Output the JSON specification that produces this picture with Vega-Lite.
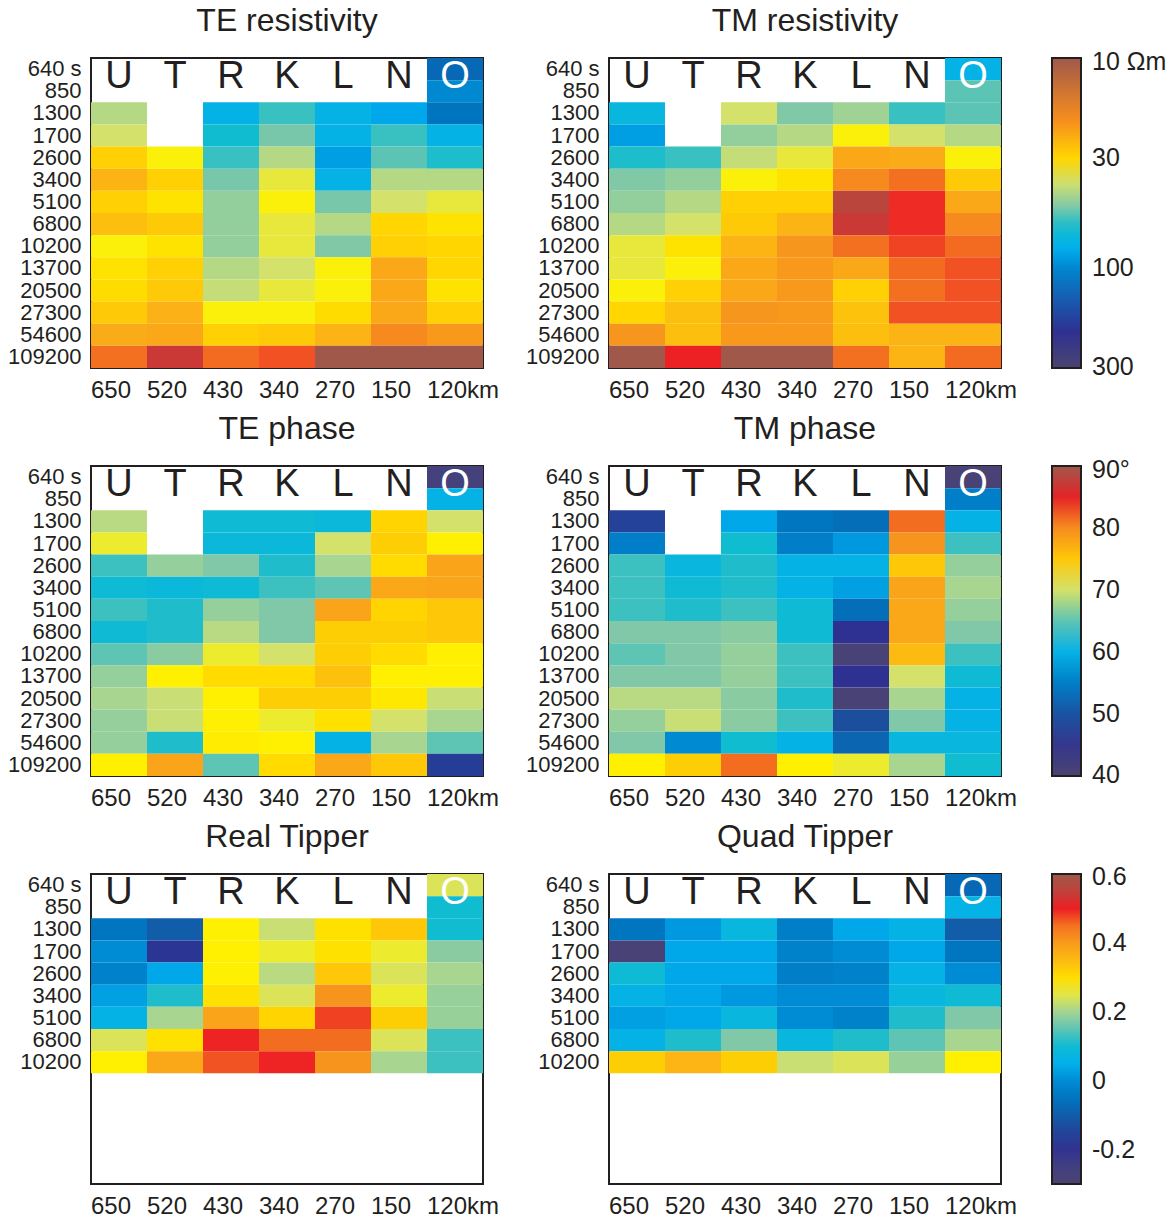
{
"$schema": "https://vega.github.io/schema/vega-lite/v6.json",
"background": "white",
"padding": {"left": 6, "top": 3, "right": 2, "bottom": 2},
"spacing": 8,
"resolve": {"scale": {"color": "independent"}},
"datasets": {
"letters": [{"station":"U"},{"station":"T"},{"station":"R"},{"station":"K"},{"station":"L"},{"station":"N"},{"station":"O"}],
"te_res": [
{"station":"O","period":"640","value":128},{"station":"O","period":"850","value":99},
{"station":"U","period":"1300","value":43},{"station":"R","period":"1300","value":77},{"station":"K","period":"1300","value":59},{"station":"L","period":"1300","value":77},{"station":"N","period":"1300","value":85},{"station":"O","period":"1300","value":117},
{"station":"U","period":"1700","value":39},{"station":"R","period":"1700","value":65},{"station":"K","period":"1700","value":52},{"station":"L","period":"1700","value":77},{"station":"N","period":"1700","value":59},{"station":"O","period":"1700","value":77},
{"station":"U","period":"2600","value":29},{"station":"T","period":"2600","value":35},{"station":"R","period":"2600","value":59},{"station":"K","period":"2600","value":43},{"station":"L","period":"2600","value":89},{"station":"N","period":"2600","value":55},{"station":"O","period":"2600","value":63},
{"station":"U","period":"3400","value":25},{"station":"T","period":"3400","value":29},{"station":"R","period":"3400","value":52},{"station":"K","period":"3400","value":37},{"station":"L","period":"3400","value":77},{"station":"N","period":"3400","value":43},{"station":"O","period":"3400","value":43},
{"station":"U","period":"5100","value":29},{"station":"T","period":"5100","value":32},{"station":"R","period":"5100","value":48},{"station":"K","period":"5100","value":35},{"station":"L","period":"5100","value":52},{"station":"N","period":"5100","value":39},{"station":"O","period":"5100","value":37},
{"station":"U","period":"6800","value":26.5},{"station":"T","period":"6800","value":28},{"station":"R","period":"6800","value":48},{"station":"K","period":"6800","value":37},{"station":"L","period":"6800","value":43},{"station":"N","period":"6800","value":30},{"station":"O","period":"6800","value":32},
{"station":"U","period":"10200","value":35},{"station":"T","period":"10200","value":32},{"station":"R","period":"10200","value":48},{"station":"K","period":"10200","value":37},{"station":"L","period":"10200","value":51},{"station":"N","period":"10200","value":29},{"station":"O","period":"10200","value":30},
{"station":"U","period":"13700","value":32},{"station":"T","period":"13700","value":29},{"station":"R","period":"13700","value":43},{"station":"K","period":"13700","value":39},{"station":"L","period":"13700","value":35},{"station":"N","period":"13700","value":23},{"station":"O","period":"13700","value":30},
{"station":"U","period":"20500","value":31},{"station":"T","period":"20500","value":28},{"station":"R","period":"20500","value":41},{"station":"K","period":"20500","value":37},{"station":"L","period":"20500","value":35},{"station":"N","period":"20500","value":23},{"station":"O","period":"20500","value":32},
{"station":"U","period":"27300","value":28},{"station":"T","period":"27300","value":24.6},{"station":"R","period":"27300","value":35},{"station":"K","period":"27300","value":35},{"station":"L","period":"27300","value":31},{"station":"N","period":"27300","value":23},{"station":"O","period":"27300","value":29},
{"station":"U","period":"54600","value":23.5},{"station":"T","period":"54600","value":23},{"station":"R","period":"54600","value":29},{"station":"K","period":"54600","value":28},{"station":"L","period":"54600","value":25},{"station":"N","period":"54600","value":19.5},{"station":"O","period":"54600","value":21},
{"station":"U","period":"109200","value":17.4},{"station":"T","period":"109200","value":12.7},{"station":"R","period":"109200","value":17},{"station":"K","period":"109200","value":16},{"station":"L","period":"109200","value":10},{"station":"N","period":"109200","value":10},{"station":"O","period":"109200","value":10}
],
"tm_res": [
{"station":"O","period":"640","value":77},{"station":"O","period":"850","value":55},
{"station":"U","period":"1300","value":72},{"station":"R","period":"1300","value":39},{"station":"K","period":"1300","value":51},{"station":"L","period":"1300","value":46},{"station":"N","period":"1300","value":59},{"station":"O","period":"1300","value":55},
{"station":"U","period":"1700","value":89},{"station":"R","period":"1700","value":48},{"station":"K","period":"1700","value":43},{"station":"L","period":"1700","value":35},{"station":"N","period":"1700","value":39},{"station":"O","period":"1700","value":43},
{"station":"U","period":"2600","value":63},{"station":"T","period":"2600","value":59},{"station":"R","period":"2600","value":41},{"station":"K","period":"2600","value":37},{"station":"L","period":"2600","value":23},{"station":"N","period":"2600","value":23.5},{"station":"O","period":"2600","value":35},
{"station":"U","period":"3400","value":51},{"station":"T","period":"3400","value":48},{"station":"R","period":"3400","value":35},{"station":"K","period":"3400","value":32},{"station":"L","period":"3400","value":19.5},{"station":"N","period":"3400","value":17.4},{"station":"O","period":"3400","value":28},
{"station":"U","period":"5100","value":48},{"station":"T","period":"5100","value":43},{"station":"R","period":"5100","value":29},{"station":"K","period":"5100","value":29},{"station":"L","period":"5100","value":11.8},{"station":"N","period":"5100","value":14.9},{"station":"O","period":"5100","value":23},
{"station":"U","period":"6800","value":43},{"station":"T","period":"6800","value":39},{"station":"R","period":"6800","value":28},{"station":"K","period":"6800","value":25},{"station":"L","period":"6800","value":12.7},{"station":"N","period":"6800","value":14.9},{"station":"O","period":"6800","value":19.5},
{"station":"U","period":"10200","value":37},{"station":"T","period":"10200","value":32},{"station":"R","period":"10200","value":25},{"station":"K","period":"10200","value":20.7},{"station":"L","period":"10200","value":17.4},{"station":"N","period":"10200","value":15.6},{"station":"O","period":"10200","value":17},
{"station":"U","period":"13700","value":37},{"station":"T","period":"13700","value":35},{"station":"R","period":"13700","value":23},{"station":"K","period":"13700","value":21},{"station":"L","period":"13700","value":23},{"station":"N","period":"13700","value":17},{"station":"O","period":"13700","value":16},
{"station":"U","period":"20500","value":35},{"station":"T","period":"20500","value":29},{"station":"R","period":"20500","value":23},{"station":"K","period":"20500","value":21},{"station":"L","period":"20500","value":29},{"station":"N","period":"20500","value":17.4},{"station":"O","period":"20500","value":16},
{"station":"U","period":"27300","value":30},{"station":"T","period":"27300","value":26.5},{"station":"R","period":"27300","value":20.7},{"station":"K","period":"27300","value":21},{"station":"L","period":"27300","value":27},{"station":"N","period":"27300","value":16},{"station":"O","period":"27300","value":16},
{"station":"U","period":"54600","value":20.7},{"station":"T","period":"54600","value":26.5},{"station":"R","period":"54600","value":21},{"station":"K","period":"54600","value":21},{"station":"L","period":"54600","value":26.5},{"station":"N","period":"54600","value":25},{"station":"O","period":"54600","value":25},
{"station":"U","period":"109200","value":10},{"station":"T","period":"109200","value":14.6},{"station":"R","period":"109200","value":10},{"station":"K","period":"109200","value":10},{"station":"L","period":"109200","value":17.4},{"station":"N","period":"109200","value":25},{"station":"O","period":"109200","value":17}
],
"te_phase": [
{"station":"O","period":"640","value":42},{"station":"O","period":"850","value":60},
{"station":"U","period":"1300","value":68.75},{"station":"R","period":"1300","value":62},{"station":"K","period":"1300","value":62},{"station":"L","period":"1300","value":61.5},{"station":"N","period":"1300","value":74},{"station":"O","period":"1300","value":70},
{"station":"U","period":"1700","value":71},{"station":"R","period":"1700","value":61.5},{"station":"K","period":"1700","value":61.5},{"station":"L","period":"1700","value":70},{"station":"N","period":"1700","value":74.5},{"station":"O","period":"1700","value":72},
{"station":"U","period":"2600","value":64},{"station":"T","period":"2600","value":67},{"station":"R","period":"2600","value":66},{"station":"K","period":"2600","value":63},{"station":"L","period":"2600","value":68},{"station":"N","period":"2600","value":73.5},{"station":"O","period":"2600","value":78},
{"station":"U","period":"3400","value":62},{"station":"T","period":"3400","value":61.5},{"station":"R","period":"3400","value":62},{"station":"K","period":"3400","value":64},{"station":"L","period":"3400","value":65},{"station":"N","period":"3400","value":77.8},{"station":"O","period":"3400","value":78},
{"station":"U","period":"5100","value":64},{"station":"T","period":"5100","value":63},{"station":"R","period":"5100","value":67},{"station":"K","period":"5100","value":66},{"station":"L","period":"5100","value":78},{"station":"N","period":"5100","value":74},{"station":"O","period":"5100","value":75},
{"station":"U","period":"6800","value":62},{"station":"T","period":"6800","value":63},{"station":"R","period":"6800","value":68.75},{"station":"K","period":"6800","value":66},{"station":"L","period":"6800","value":74.5},{"station":"N","period":"6800","value":74.5},{"station":"O","period":"6800","value":75},
{"station":"U","period":"10200","value":65},{"station":"T","period":"10200","value":66.5},{"station":"R","period":"10200","value":71},{"station":"K","period":"10200","value":70},{"station":"L","period":"10200","value":74.5},{"station":"N","period":"10200","value":73.5},{"station":"O","period":"10200","value":72},
{"station":"U","period":"13700","value":67},{"station":"T","period":"13700","value":72},{"station":"R","period":"13700","value":73.5},{"station":"K","period":"13700","value":73.5},{"station":"L","period":"13700","value":75.5},{"station":"N","period":"13700","value":72},{"station":"O","period":"13700","value":72},
{"station":"U","period":"20500","value":68},{"station":"T","period":"20500","value":69.5},{"station":"R","period":"20500","value":72},{"station":"K","period":"20500","value":74.5},{"station":"L","period":"20500","value":74.5},{"station":"N","period":"20500","value":72.5},{"station":"O","period":"20500","value":69.5},
{"station":"U","period":"27300","value":67},{"station":"T","period":"27300","value":69.5},{"station":"R","period":"27300","value":72},{"station":"K","period":"27300","value":71},{"station":"L","period":"27300","value":73},{"station":"N","period":"27300","value":70},{"station":"O","period":"27300","value":68},
{"station":"U","period":"54600","value":67},{"station":"T","period":"54600","value":63},{"station":"R","period":"54600","value":72.2},{"station":"K","period":"54600","value":72},{"station":"L","period":"54600","value":60},{"station":"N","period":"54600","value":68},{"station":"O","period":"54600","value":65},
{"station":"U","period":"109200","value":72},{"station":"T","period":"109200","value":78},{"station":"R","period":"109200","value":65},{"station":"K","period":"109200","value":73.5},{"station":"L","period":"109200","value":77.8},{"station":"N","period":"109200","value":75},{"station":"O","period":"109200","value":47.5}
],
"tm_phase": [
{"station":"O","period":"640","value":41},{"station":"O","period":"850","value":55},
{"station":"U","period":"1300","value":48},{"station":"R","period":"1300","value":58.5},{"station":"K","period":"1300","value":54},{"station":"L","period":"1300","value":53},{"station":"N","period":"1300","value":82},{"station":"O","period":"1300","value":60},
{"station":"U","period":"1700","value":55},{"station":"R","period":"1700","value":62.5},{"station":"K","period":"1700","value":55},{"station":"L","period":"1700","value":57.5},{"station":"N","period":"1700","value":79.5},{"station":"O","period":"1700","value":64},
{"station":"U","period":"2600","value":64},{"station":"T","period":"2600","value":61},{"station":"R","period":"2600","value":63},{"station":"K","period":"2600","value":60},{"station":"L","period":"2600","value":60},{"station":"N","period":"2600","value":75},{"station":"O","period":"2600","value":67},
{"station":"U","period":"3400","value":64},{"station":"T","period":"3400","value":62},{"station":"R","period":"3400","value":63},{"station":"K","period":"3400","value":60},{"station":"L","period":"3400","value":58},{"station":"N","period":"3400","value":78},{"station":"O","period":"3400","value":68},
{"station":"U","period":"5100","value":64},{"station":"T","period":"5100","value":63},{"station":"R","period":"5100","value":64},{"station":"K","period":"5100","value":62},{"station":"L","period":"5100","value":53},{"station":"N","period":"5100","value":77.8},{"station":"O","period":"5100","value":67},
{"station":"U","period":"6800","value":66},{"station":"T","period":"6800","value":66},{"station":"R","period":"6800","value":66.5},{"station":"K","period":"6800","value":62},{"station":"L","period":"6800","value":46},{"station":"N","period":"6800","value":77.8},{"station":"O","period":"6800","value":66},
{"station":"U","period":"10200","value":65},{"station":"T","period":"10200","value":66},{"station":"R","period":"10200","value":67},{"station":"K","period":"10200","value":64},{"station":"L","period":"10200","value":41},{"station":"N","period":"10200","value":76},{"station":"O","period":"10200","value":64},
{"station":"U","period":"13700","value":66},{"station":"T","period":"13700","value":66},{"station":"R","period":"13700","value":67},{"station":"K","period":"13700","value":64},{"station":"L","period":"13700","value":46},{"station":"N","period":"13700","value":70},{"station":"O","period":"13700","value":62},
{"station":"U","period":"20500","value":68.75},{"station":"T","period":"20500","value":68.75},{"station":"R","period":"20500","value":66.5},{"station":"K","period":"20500","value":63},{"station":"L","period":"20500","value":41},{"station":"N","period":"20500","value":68},{"station":"O","period":"20500","value":60},
{"station":"U","period":"27300","value":67},{"station":"T","period":"27300","value":69.5},{"station":"R","period":"27300","value":66.5},{"station":"K","period":"27300","value":64},{"station":"L","period":"27300","value":49.5},{"station":"N","period":"27300","value":66},{"station":"O","period":"27300","value":60},
{"station":"U","period":"54600","value":66},{"station":"T","period":"54600","value":56.5},{"station":"R","period":"54600","value":62.5},{"station":"K","period":"54600","value":60},{"station":"L","period":"54600","value":52},{"station":"N","period":"54600","value":61},{"station":"O","period":"54600","value":61},
{"station":"U","period":"109200","value":72},{"station":"T","period":"109200","value":74.5},{"station":"R","period":"109200","value":82},{"station":"K","period":"109200","value":72},{"station":"L","period":"109200","value":71},{"station":"N","period":"109200","value":68},{"station":"O","period":"109200","value":62.5}
],
"re_tip": [
{"station":"O","period":"640","value":0.245},{"station":"O","period":"850","value":0.105},
{"station":"U","period":"1300","value":-0.048},{"station":"T","period":"1300","value":-0.1},{"station":"R","period":"1300","value":0.276},{"station":"K","period":"1300","value":0.231},{"station":"L","period":"1300","value":0.294},{"station":"N","period":"1300","value":0.33},{"station":"O","period":"1300","value":0.105},
{"station":"U","period":"1700","value":0.0},{"station":"T","period":"1700","value":-0.183},{"station":"R","period":"1700","value":0.276},{"station":"K","period":"1700","value":0.258},{"station":"L","period":"1700","value":0.294},{"station":"N","period":"1700","value":0.258},{"station":"O","period":"1700","value":0.177},
{"station":"U","period":"2600","value":-0.02},{"station":"T","period":"2600","value":0.033},{"station":"R","period":"2600","value":0.276},{"station":"K","period":"2600","value":0.218},{"station":"L","period":"2600","value":0.33},{"station":"N","period":"2600","value":0.245},{"station":"O","period":"2600","value":0.204},
{"station":"U","period":"3400","value":0.024},{"station":"T","period":"3400","value":0.114},{"station":"R","period":"3400","value":0.294},{"station":"K","period":"3400","value":0.245},{"station":"L","period":"3400","value":0.411},{"station":"N","period":"3400","value":0.258},{"station":"O","period":"3400","value":0.19},
{"station":"U","period":"5100","value":0.06},{"station":"T","period":"5100","value":0.204},{"station":"R","period":"5100","value":0.384},{"station":"K","period":"5100","value":0.312},{"station":"L","period":"5100","value":0.483},{"station":"N","period":"5100","value":0.321},{"station":"O","period":"5100","value":0.19},
{"station":"U","period":"6800","value":0.245},{"station":"T","period":"6800","value":0.294},{"station":"R","period":"6800","value":0.497},{"station":"K","period":"6800","value":0.456},{"station":"L","period":"6800","value":0.456},{"station":"N","period":"6800","value":0.245},{"station":"O","period":"6800","value":0.132},
{"station":"U","period":"10200","value":0.276},{"station":"T","period":"10200","value":0.38},{"station":"R","period":"10200","value":0.474},{"station":"K","period":"10200","value":0.497},{"station":"L","period":"10200","value":0.411},{"station":"N","period":"10200","value":0.204},{"station":"O","period":"10200","value":0.132}
],
"quad_tip": [
{"station":"O","period":"640","value":-0.075},{"station":"O","period":"850","value":0.06},
{"station":"U","period":"1300","value":-0.048},{"station":"T","period":"1300","value":0.015},{"station":"R","period":"1300","value":0.078},{"station":"K","period":"1300","value":-0.03},{"station":"L","period":"1300","value":0.033},{"station":"N","period":"1300","value":0.06},{"station":"O","period":"1300","value":-0.1},
{"station":"U","period":"1700","value":-0.282},{"station":"T","period":"1700","value":0.033},{"station":"R","period":"1700","value":0.033},{"station":"K","period":"1700","value":-0.02},{"station":"L","period":"1700","value":0.0},{"station":"N","period":"1700","value":0.033},{"station":"O","period":"1700","value":-0.048},
{"station":"U","period":"2600","value":0.096},{"station":"T","period":"2600","value":0.033},{"station":"R","period":"2600","value":0.033},{"station":"K","period":"2600","value":-0.03},{"station":"L","period":"2600","value":-0.02},{"station":"N","period":"2600","value":0.06},{"station":"O","period":"2600","value":0.0},
{"station":"U","period":"3400","value":0.06},{"station":"T","period":"3400","value":0.033},{"station":"R","period":"3400","value":0.015},{"station":"K","period":"3400","value":0.0},{"station":"L","period":"3400","value":0.0},{"station":"N","period":"3400","value":0.078},{"station":"O","period":"3400","value":0.096},
{"station":"U","period":"5100","value":0.024},{"station":"T","period":"5100","value":0.033},{"station":"R","period":"5100","value":0.078},{"station":"K","period":"5100","value":0.0},{"station":"L","period":"5100","value":-0.02},{"station":"N","period":"5100","value":0.114},{"station":"O","period":"5100","value":0.168},
{"station":"U","period":"6800","value":0.06},{"station":"T","period":"6800","value":0.114},{"station":"R","period":"6800","value":0.168},{"station":"K","period":"6800","value":0.078},{"station":"L","period":"6800","value":0.114},{"station":"N","period":"6800","value":0.15},{"station":"O","period":"6800","value":0.204},
{"station":"U","period":"10200","value":0.321},{"station":"T","period":"10200","value":0.357},{"station":"R","period":"10200","value":0.321},{"station":"K","period":"10200","value":0.231},{"station":"L","period":"10200","value":0.245},{"station":"N","period":"10200","value":0.19},{"station":"O","period":"10200","value":0.276}
]
},
"vconcat": [
{"hconcat": [
{"width": 392, "height": 310, "title": "TE resistivity", "layer": [
{"data": {"name": "te_res"}, "mark": "rect", "encoding": {
"x": {"field": "station", "type": "nominal", "scale": {"domain": ["U","T","R","K","L","N","O"], "paddingInner": 0, "paddingOuter": 0}, "axis": {"title": null, "labelAlign": "left", "labelAngle": 0, "labelFontSize": 24, "labelPadding": 10, "labelOffset": -28, "labelExpr": "datum.value == 'U' ? '650' : datum.value == 'T' ? '520' : datum.value == 'R' ? '430' : datum.value == 'K' ? '340' : datum.value == 'L' ? '270' : datum.value == 'N' ? '150' : '120km'"}},
"y": {"field": "period", "type": "ordinal", "scale": {"domain": ["640","850","1300","1700","2600","3400","5100","6800","10200","13700","20500","27300","54600","109200"], "paddingInner": 0, "paddingOuter": 0}, "axis": {"title": null, "labelExpr": "datum.value == '640' ? '640 s' : datum.label"}},
"color": {"field": "value", "type": "quantitative", "legend": null, "scale": {"type": "log", "nice": false, "interpolate": "rgb", "domain": [300,236.4,199.5,157.2,119.8,97.6,82.4,64.9,58.6,51.2,44.7,39.0,34.6,29.7,25.1,20.4,16.6,14.5,12.3,10], "range": ["#4b4470","#3f3e85","#2e3192","#1c4e9e","#0072bc","#008ad2","#00aeef","#10bcd0","#3cc0c0","#80c8a8","#a8d590","#d4e16a","#fff200","#ffd400","#fcb515","#f7941d","#f26522","#ed1c24","#c1403a","#a0584a"]}}
}},
{"data": {"name": "letters"}, "mark": {"type": "text", "fontSize": 38, "baseline": "middle", "align": "center", "dy": -3}, "encoding": {
"x": {"field": "station", "type": "nominal"},
"y": {"datum": "640", "type": "ordinal", "bandPosition": 1},
"text": {"field": "station"},
"color": {"condition": {"test": "datum.station === 'O'", "value": "white"}, "value": "#231f20"}
}}
]},
{"width": 392, "height": 310, "title": "TM resistivity", "layer": [
{"data": {"name": "tm_res"}, "mark": "rect", "encoding": {
"x": {"field": "station", "type": "nominal", "scale": {"domain": ["U","T","R","K","L","N","O"], "paddingInner": 0, "paddingOuter": 0}, "axis": {"title": null, "labelAlign": "left", "labelAngle": 0, "labelFontSize": 24, "labelPadding": 10, "labelOffset": -28, "labelExpr": "datum.value == 'U' ? '650' : datum.value == 'T' ? '520' : datum.value == 'R' ? '430' : datum.value == 'K' ? '340' : datum.value == 'L' ? '270' : datum.value == 'N' ? '150' : '120km'"}},
"y": {"field": "period", "type": "ordinal", "scale": {"domain": ["640","850","1300","1700","2600","3400","5100","6800","10200","13700","20500","27300","54600","109200"], "paddingInner": 0, "paddingOuter": 0}, "axis": {"title": null, "labelExpr": "datum.value == '640' ? '640 s' : datum.label"}},
"color": {"field": "value", "type": "quantitative", "legend": {"title": null, "values": [10.4,30,100,298], "labelExpr": "datum.value < 11 ? '10 Ωm' : datum.value > 290 ? '300' : datum.label"}, "scale": {"type": "log", "nice": false, "interpolate": "rgb", "domain": [300,236.4,199.5,157.2,119.8,97.6,82.4,64.9,58.6,51.2,44.7,39.0,34.6,29.7,25.1,20.4,16.6,14.5,12.3,10], "range": ["#4b4470","#3f3e85","#2e3192","#1c4e9e","#0072bc","#008ad2","#00aeef","#10bcd0","#3cc0c0","#80c8a8","#a8d590","#d4e16a","#fff200","#ffd400","#fcb515","#f7941d","#f26522","#ed1c24","#c1403a","#a0584a"]}}
}},
{"data": {"name": "letters"}, "mark": {"type": "text", "fontSize": 38, "baseline": "middle", "align": "center", "dy": -3}, "encoding": {
"x": {"field": "station", "type": "nominal"},
"y": {"datum": "640", "type": "ordinal", "bandPosition": 1},
"text": {"field": "station"},
"color": {"condition": {"test": "datum.station === 'O'", "value": "white"}, "value": "#231f20"}
}}
]}
], "spacing": 126, "bounds": "flush", "resolve": {"scale": {"color": "independent"}}},
{"hconcat": [
{"width": 392, "height": 310, "title": "TE phase", "layer": [
{"data": {"name": "te_phase"}, "mark": "rect", "encoding": {
"x": {"field": "station", "type": "nominal", "scale": {"domain": ["U","T","R","K","L","N","O"], "paddingInner": 0, "paddingOuter": 0}, "axis": {"title": null, "labelAlign": "left", "labelAngle": 0, "labelFontSize": 24, "labelPadding": 10, "labelOffset": -28, "labelExpr": "datum.value == 'U' ? '650' : datum.value == 'T' ? '520' : datum.value == 'R' ? '430' : datum.value == 'K' ? '340' : datum.value == 'L' ? '270' : datum.value == 'N' ? '150' : '120km'"}},
"y": {"field": "period", "type": "ordinal", "scale": {"domain": ["640","850","1300","1700","2600","3400","5100","6800","10200","13700","20500","27300","54600","109200"], "paddingInner": 0, "paddingOuter": 0}, "axis": {"title": null, "labelExpr": "datum.value == '640' ? '640 s' : datum.label"}},
"color": {"field": "value", "type": "quantitative", "legend": null, "scale": {"type": "linear", "nice": false, "zero": false, "interpolate": "rgb", "domain": [40,43.5,46,49.5,53.5,56.5,59,62.5,64,66,68,70,71.75,74,76.5,79.5,82.5,84.5,87,90], "range": ["#4b4470","#3f3e85","#2e3192","#1c4e9e","#0072bc","#008ad2","#00aeef","#10bcd0","#3cc0c0","#80c8a8","#a8d590","#d4e16a","#fff200","#ffd400","#fcb515","#f7941d","#f26522","#ed1c24","#c1403a","#a0584a"]}}
}},
{"data": {"name": "letters"}, "mark": {"type": "text", "fontSize": 38, "baseline": "middle", "align": "center", "dy": -3}, "encoding": {
"x": {"field": "station", "type": "nominal"},
"y": {"datum": "640", "type": "ordinal", "bandPosition": 1},
"text": {"field": "station"},
"color": {"condition": {"test": "datum.station === 'O'", "value": "white"}, "value": "#231f20"}
}}
]},
{"width": 392, "height": 310, "title": "TM phase", "layer": [
{"data": {"name": "tm_phase"}, "mark": "rect", "encoding": {
"x": {"field": "station", "type": "nominal", "scale": {"domain": ["U","T","R","K","L","N","O"], "paddingInner": 0, "paddingOuter": 0}, "axis": {"title": null, "labelAlign": "left", "labelAngle": 0, "labelFontSize": 24, "labelPadding": 10, "labelOffset": -28, "labelExpr": "datum.value == 'U' ? '650' : datum.value == 'T' ? '520' : datum.value == 'R' ? '430' : datum.value == 'K' ? '340' : datum.value == 'L' ? '270' : datum.value == 'N' ? '150' : '120km'"}},
"y": {"field": "period", "type": "ordinal", "scale": {"domain": ["640","850","1300","1700","2600","3400","5100","6800","10200","13700","20500","27300","54600","109200"], "paddingInner": 0, "paddingOuter": 0}, "axis": {"title": null, "labelExpr": "datum.value == '640' ? '640 s' : datum.label"}},
"color": {"field": "value", "type": "quantitative", "legend": {"title": null, "values": [40.1,50,60,70,80,89.3], "labelExpr": "datum.value > 89 ? '90°' : datum.value < 41 ? '40' : datum.label"}, "scale": {"type": "linear", "nice": false, "zero": false, "interpolate": "rgb", "domain": [40,43.5,46,49.5,53.5,56.5,59,62.5,64,66,68,70,71.75,74,76.5,79.5,82.5,84.5,87,90], "range": ["#4b4470","#3f3e85","#2e3192","#1c4e9e","#0072bc","#008ad2","#00aeef","#10bcd0","#3cc0c0","#80c8a8","#a8d590","#d4e16a","#fff200","#ffd400","#fcb515","#f7941d","#f26522","#ed1c24","#c1403a","#a0584a"]}}
}},
{"data": {"name": "letters"}, "mark": {"type": "text", "fontSize": 38, "baseline": "middle", "align": "center", "dy": -3}, "encoding": {
"x": {"field": "station", "type": "nominal"},
"y": {"datum": "640", "type": "ordinal", "bandPosition": 1},
"text": {"field": "station"},
"color": {"condition": {"test": "datum.station === 'O'", "value": "white"}, "value": "#231f20"}
}}
]}
], "spacing": 126, "bounds": "flush", "resolve": {"scale": {"color": "independent"}}},
{"hconcat": [
{"width": 392, "height": 310, "title": "Real Tipper", "layer": [
{"data": {"name": "re_tip"}, "mark": "rect", "encoding": {
"x": {"field": "station", "type": "nominal", "scale": {"domain": ["U","T","R","K","L","N","O"], "paddingInner": 0, "paddingOuter": 0}, "axis": {"title": null, "labelAlign": "left", "labelAngle": 0, "labelFontSize": 24, "labelPadding": 10, "labelOffset": -28, "labelExpr": "datum.value == 'U' ? '650' : datum.value == 'T' ? '520' : datum.value == 'R' ? '430' : datum.value == 'K' ? '340' : datum.value == 'L' ? '270' : datum.value == 'N' ? '150' : '120km'"}},
"y": {"field": "period", "type": "ordinal", "scale": {"domain": ["640","850","1300","1700","2600","3400","5100","6800","10200","13700","20500","27300","54600","109200"], "paddingInner": 0, "paddingOuter": 0}, "axis": {"title": null, "values": ["640","850","1300","1700","2600","3400","5100","6800","10200"], "labelExpr": "datum.value == '640' ? '640 s' : datum.label"}},
"color": {"field": "value", "type": "quantitative", "legend": null, "scale": {"type": "linear", "nice": false, "zero": false, "interpolate": "rgb", "domain": [-0.3,-0.237,-0.192,-0.129,-0.057,-0.003,0.042,0.105,0.132,0.168,0.204,0.24,0.2715,0.312,0.357,0.411,0.465,0.501,0.546,0.6], "range": ["#4b4470","#3f3e85","#2e3192","#1c4e9e","#0072bc","#008ad2","#00aeef","#10bcd0","#3cc0c0","#80c8a8","#a8d590","#d4e16a","#fff200","#ffd400","#fcb515","#f7941d","#f26522","#ed1c24","#c1403a","#a0584a"]}}
}},
{"data": {"name": "letters"}, "mark": {"type": "text", "fontSize": 38, "baseline": "middle", "align": "center", "dy": -3}, "encoding": {
"x": {"field": "station", "type": "nominal"},
"y": {"datum": "640", "type": "ordinal", "bandPosition": 1},
"text": {"field": "station"},
"color": {"condition": {"test": "datum.station === 'O'", "value": "white"}, "value": "#231f20"}
}}
]},
{"width": 392, "height": 310, "title": "Quad Tipper", "layer": [
{"data": {"name": "quad_tip"}, "mark": "rect", "encoding": {
"x": {"field": "station", "type": "nominal", "scale": {"domain": ["U","T","R","K","L","N","O"], "paddingInner": 0, "paddingOuter": 0}, "axis": {"title": null, "labelAlign": "left", "labelAngle": 0, "labelFontSize": 24, "labelPadding": 10, "labelOffset": -28, "labelExpr": "datum.value == 'U' ? '650' : datum.value == 'T' ? '520' : datum.value == 'R' ? '430' : datum.value == 'K' ? '340' : datum.value == 'L' ? '270' : datum.value == 'N' ? '150' : '120km'"}},
"y": {"field": "period", "type": "ordinal", "scale": {"domain": ["640","850","1300","1700","2600","3400","5100","6800","10200","13700","20500","27300","54600","109200"], "paddingInner": 0, "paddingOuter": 0}, "axis": {"title": null, "values": ["640","850","1300","1700","2600","3400","5100","6800","10200"], "labelExpr": "datum.value == '640' ? '640 s' : datum.label"}},
"color": {"field": "value", "type": "quantitative", "legend": {"title": null, "values": [-0.2,0,0.2,0.4,0.59], "labelExpr": "datum.value < 0 ? '-0.2' : datum.value == 0 ? '0' : datum.value > 0.55 ? '0.6' : datum.label"}, "scale": {"type": "linear", "nice": false, "zero": false, "interpolate": "rgb", "domain": [-0.3,-0.237,-0.192,-0.129,-0.057,-0.003,0.042,0.105,0.132,0.168,0.204,0.24,0.2715,0.312,0.357,0.411,0.465,0.501,0.546,0.6], "range": ["#4b4470","#3f3e85","#2e3192","#1c4e9e","#0072bc","#008ad2","#00aeef","#10bcd0","#3cc0c0","#80c8a8","#a8d590","#d4e16a","#fff200","#ffd400","#fcb515","#f7941d","#f26522","#ed1c24","#c1403a","#a0584a"]}}
}},
{"data": {"name": "letters"}, "mark": {"type": "text", "fontSize": 38, "baseline": "middle", "align": "center", "dy": -3}, "encoding": {
"x": {"field": "station", "type": "nominal"},
"y": {"datum": "640", "type": "ordinal", "bandPosition": 1},
"text": {"field": "station"},
"color": {"condition": {"test": "datum.station === 'O'", "value": "white"}, "value": "#231f20"}
}}
]}
], "spacing": 126, "bounds": "flush", "resolve": {"scale": {"color": "independent"}}}
],
"config": {
"font": "Liberation Sans",
"view": {"stroke": "#231f20", "strokeWidth": 2},
"axis": {"labelFont": "Liberation Sans", "labelFontSize": 22, "labelColor": "#231f20", "domain": false, "ticks": false, "grid": false, "labelPadding": 10, "labelOverlap": false, "labelFlush": false},
"title": {"font": "Liberation Sans", "fontSize": 32, "fontWeight": "normal", "color": "#231f20", "baseline": "alphabetic", "offset": 20, "anchor": "middle"},
"text": {"font": "Liberation Sans"},
"legend": {"labelFont": "Liberation Sans", "labelFontSize": 25, "labelColor": "#231f20", "gradientLength": 310, "gradientThickness": 29, "gradientStrokeColor": "#231f20", "gradientStrokeWidth": 2, "labelOffset": 11, "gradientLabelOffset": 11, "labelOverlap": false, "offset": 51, "padding": 0, "direction": "vertical", "orient": "right", "titlePadding": 0}
}
}
